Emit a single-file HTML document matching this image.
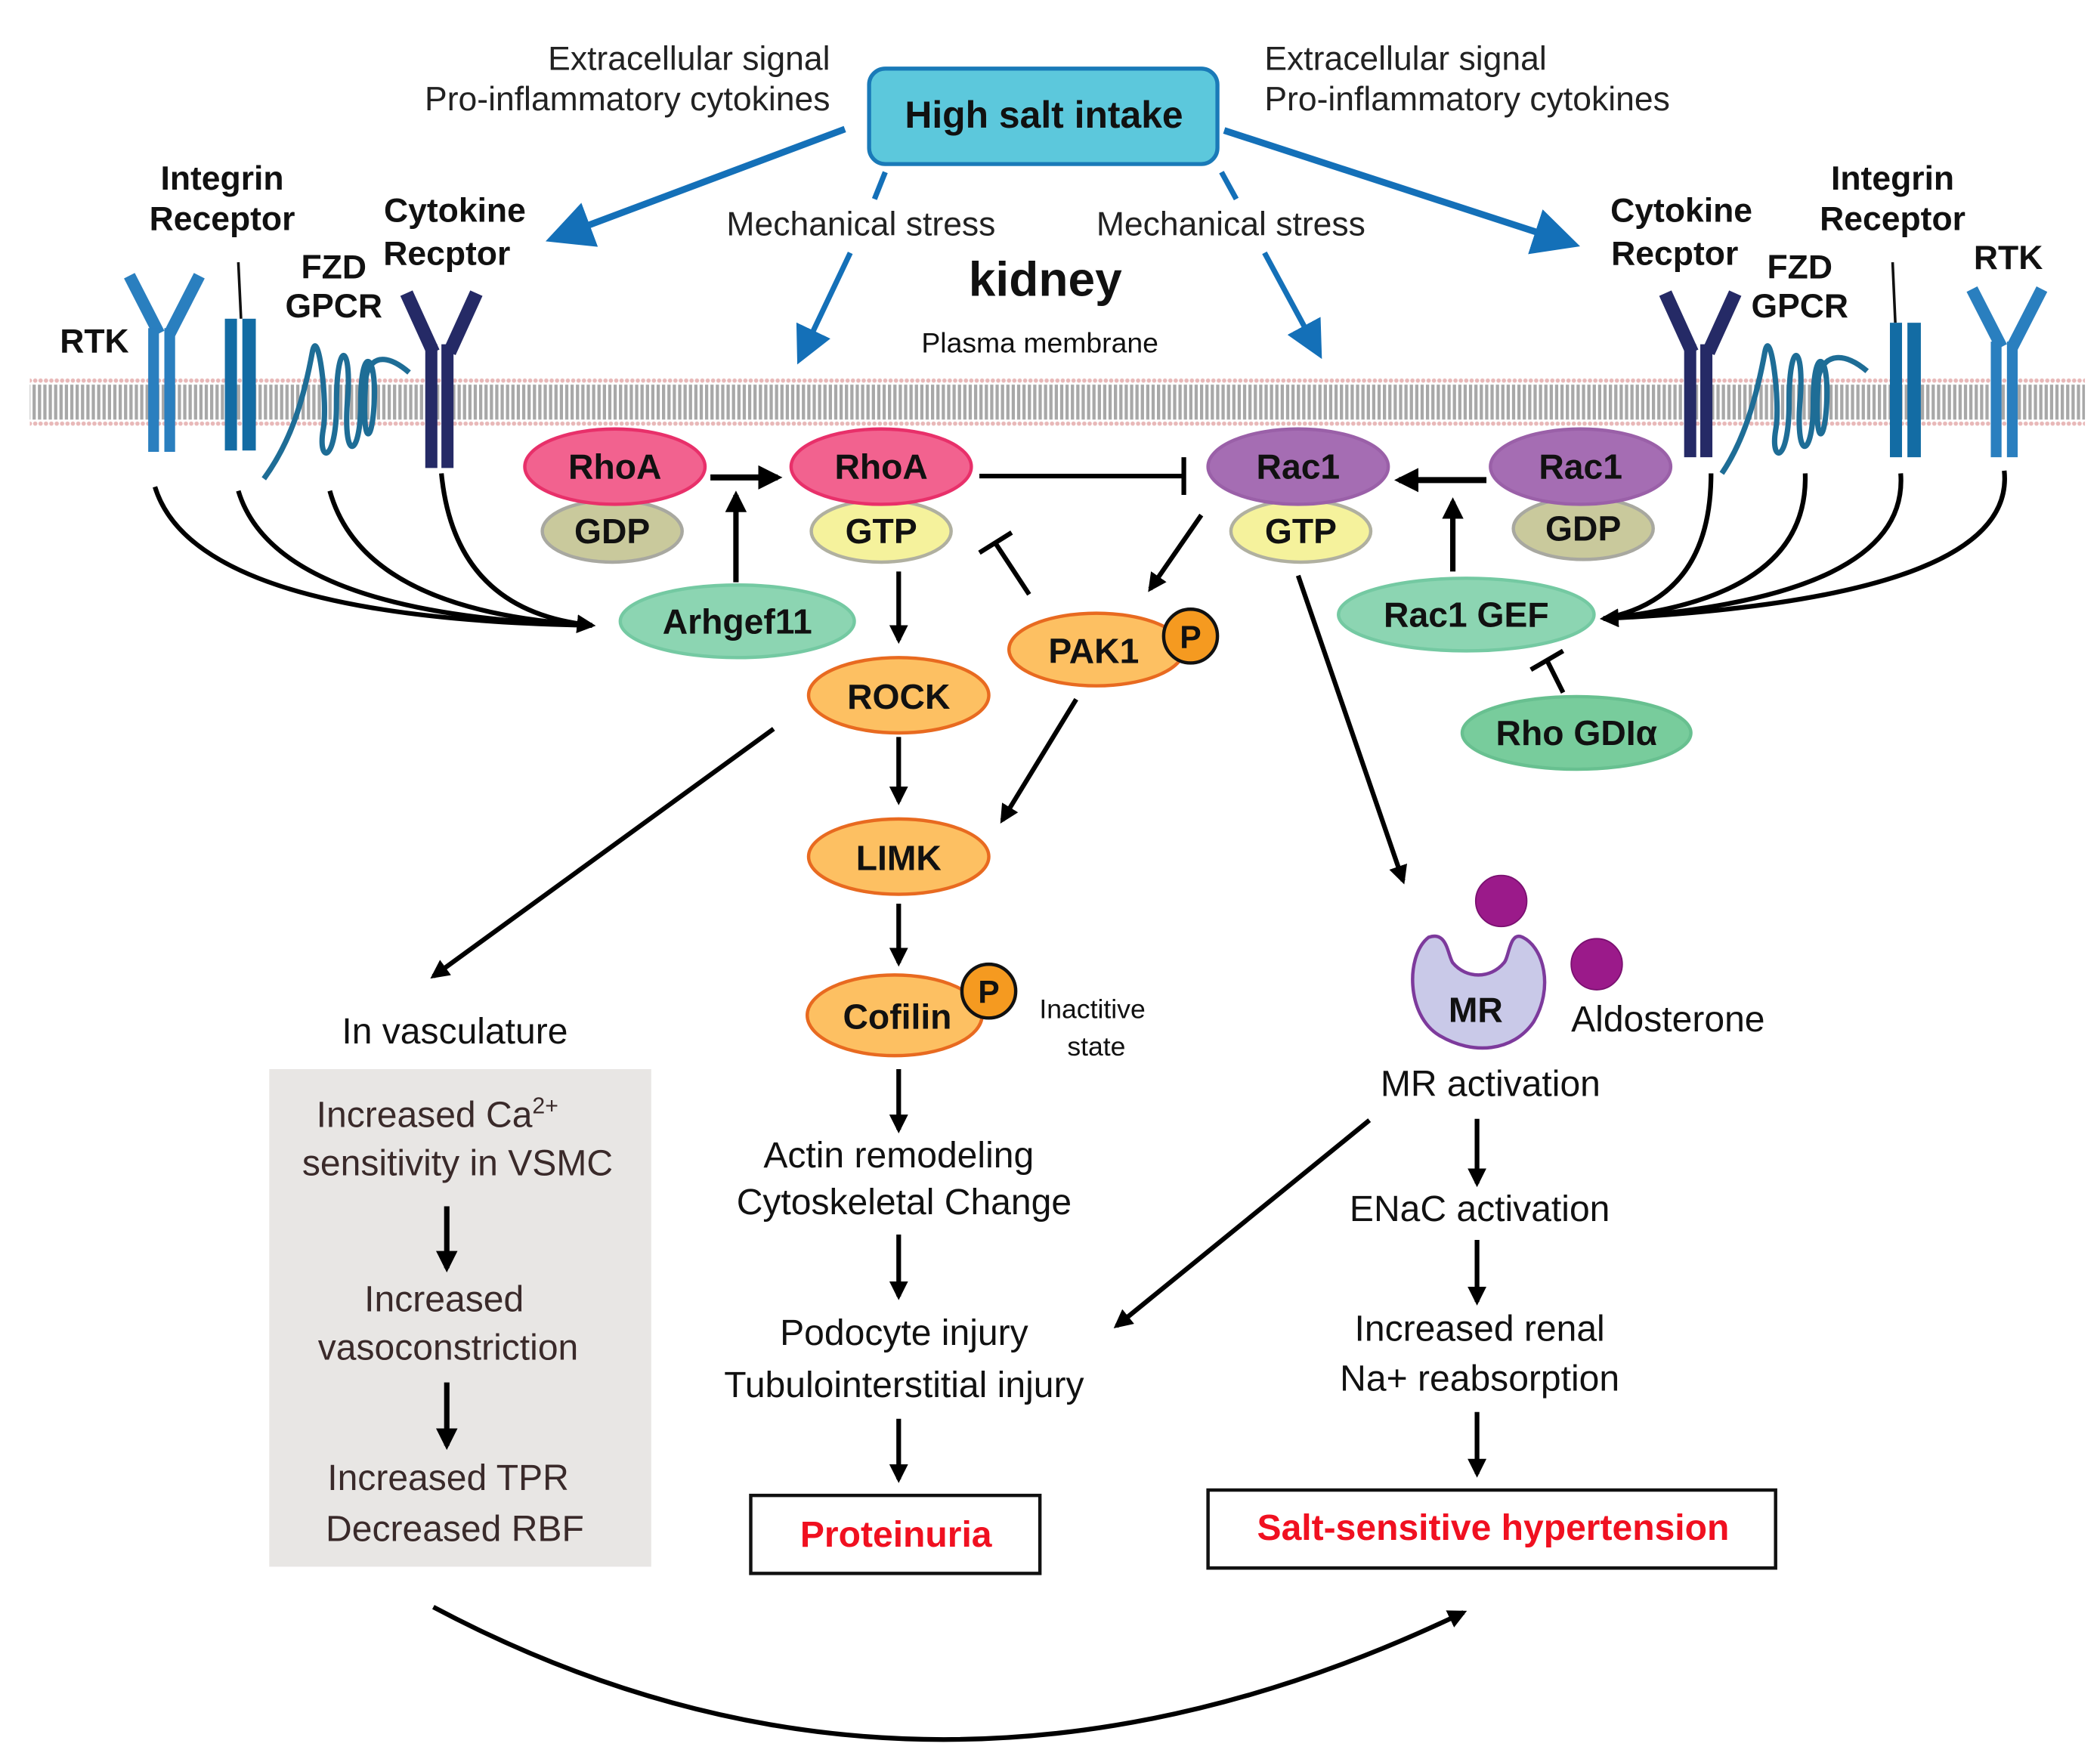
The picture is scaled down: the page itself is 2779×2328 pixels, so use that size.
<!DOCTYPE html>
<html><head><meta charset="utf-8"><style>
html,body{margin:0;padding:0;background:#fff}
svg{display:block}
svg text{font-family:"Liberation Sans",Arial,Helvetica,sans-serif}
.b{font-weight:bold}
</style></head><body>
<svg width="2779" height="2328" viewBox="0 0 1561 1308" xmlns="http://www.w3.org/2000/svg" font-family="Liberation Sans, Arial, sans-serif">
<defs>
<marker id="ah" viewBox="0 0 10 10" refX="8" refY="5" markerWidth="4" markerHeight="4" orient="auto" markerUnits="strokeWidth"><path d="M0,0 L10,5 L0,10 z" fill="#000"/></marker>
<marker id="bh" viewBox="0 0 10 10" refX="8" refY="5" markerWidth="7" markerHeight="7" orient="auto" markerUnits="strokeWidth"><path d="M0,0 L10,5 L0,10 z" fill="#1470b8"/></marker>
<pattern id="mem" width="4" height="40" patternUnits="userSpaceOnUse"><rect width="4" height="40" fill="#fff"/><rect x="0" y="6" width="2.4" height="26" fill="#a8a8a8"/><circle cx="2" cy="3" r="1.6" fill="#e8b8b8"/><circle cx="2" cy="35" r="1.6" fill="#e8b8b8"/></pattern>
</defs>

<g font-size="25" fill="#222">
<text x="617" y="52" text-anchor="end">Extracellular signal</text>
<text x="617" y="82" text-anchor="end">Pro-inflammatory cytokines</text>
<text x="940" y="52">Extracellular signal</text>
<text x="940" y="82">Pro-inflammatory cytokines</text>
<text x="640" y="175" text-anchor="middle">Mechanical stress</text>
<text x="915" y="175" text-anchor="middle">Mechanical stress</text>
</g>
<rect x="646" y="51" width="259" height="71" rx="12" fill="#5cc8dc" stroke="#1a7ab8" stroke-width="3"/>
<text x="776" y="95" class="b" font-size="28" text-anchor="middle" fill="#111">High salt intake</text>
<text x="777" y="220" class="b" font-size="36" text-anchor="middle" fill="#111">kidney</text>
<text x="773" y="262" font-size="21" text-anchor="middle" fill="#111">Plasma membrane</text>

<g stroke="#1470b8" stroke-width="5" fill="none">
<line x1="628" y1="96" x2="412" y2="177" marker-end="url(#bh)"/>
<line x1="910" y1="97" x2="1168" y2="181" marker-end="url(#bh)"/>
<line x1="658" y1="128" x2="650" y2="148" stroke-width="4"/>
<line x1="632" y1="188" x2="595" y2="266" stroke-width="4" marker-end="url(#bh)"/>
<line x1="908" y1="128" x2="919" y2="148" stroke-width="4"/>
<line x1="940" y1="188" x2="980" y2="262" stroke-width="4" marker-end="url(#bh)"/>
</g>

<rect x="22" y="281" width="1528" height="40" fill="url(#mem)"/>

<g font-size="25" class="b" fill="#111" text-anchor="middle">
<text x="70" y="262">RTK</text>
<text x="165" y="141">Integrin</text><text x="165" y="171">Receptor</text>
<text x="248" y="207">FZD</text><text x="248" y="236">GPCR</text>
<text x="338" y="165">Cytokine</text><text x="332" y="197">Recptor</text>
<text x="1250" y="165">Cytokine</text><text x="1245" y="197">Recptor</text>
<text x="1338" y="207">FZD</text><text x="1338" y="236">GPCR</text>
<text x="1407" y="141">Integrin</text><text x="1407" y="171">Receptor</text>
<text x="1493" y="200">RTK</text>
</g>
<g fill="none" stroke-linecap="butt">
<path d="M96 205 L118 248 M148 205 L126 248" stroke="#2a7fbf" stroke-width="9"/>
<rect x="110" y="244" width="8" height="92" fill="#2a7fbf"/><rect x="122" y="244" width="8" height="92" fill="#2a7fbf"/>
<line x1="177" y1="195" x2="179" y2="237" stroke="#111" stroke-width="2"/>
<rect x="167" y="237" width="9" height="98" fill="#136ca4"/><rect x="180" y="237" width="10" height="98" fill="#136ca4"/>
<path d="M196 356 C215 330 225 300 232 262 C236 240 244 300 240 320 C236 345 250 345 250 300 C250 250 262 255 258 300 C255 345 268 340 268 300 C268 255 280 262 278 300 C276 335 268 330 272 280 C276 262 290 265 304 277" stroke="#1e6d96" stroke-width="4"/>
<path d="M302 218 L322 262 M354 218 L334 262" stroke="#252a66" stroke-width="10"/>
<rect x="316" y="256" width="9" height="92" fill="#252a66"/><rect x="328" y="256" width="9" height="92" fill="#252a66"/>
<path d="M1238 218 L1258 262 M1290 218 L1270 262" stroke="#252a66" stroke-width="10"/>
<rect x="1252" y="256" width="9" height="84" fill="#252a66"/><rect x="1264" y="256" width="9" height="84" fill="#252a66"/>
<path d="M1280 352 C1295 330 1305 300 1312 262 C1316 240 1324 300 1320 320 C1316 345 1330 345 1330 300 C1330 250 1342 255 1338 300 C1335 345 1348 340 1348 300 C1348 255 1360 262 1358 300 C1356 335 1348 330 1352 280 C1356 262 1372 262 1388 276" stroke="#1e6d96" stroke-width="4"/>
<line x1="1407" y1="195" x2="1409" y2="240" stroke="#111" stroke-width="2"/>
<rect x="1405" y="240" width="9" height="100" fill="#136ca4"/><rect x="1418" y="240" width="10" height="100" fill="#136ca4"/>
<path d="M1466 215 L1488 258 M1518 215 L1496 258" stroke="#2a7fbf" stroke-width="9"/>
<rect x="1480" y="254" width="8" height="86" fill="#2a7fbf"/><rect x="1492" y="254" width="8" height="86" fill="#2a7fbf"/>
</g>

<g stroke="#000" stroke-width="3.5" fill="none">
<path d="M115 362 Q145 460 440 465"/>
<path d="M177 365 Q205 458 440 465"/>
<path d="M245 365 Q270 455 440 465"/>
<path d="M328 352 Q338 455 440 465" marker-end="url(#ah)"/>
<path d="M1272 352 Q1272 445 1192 460"/>
<path d="M1342 352 Q1345 445 1192 460"/>
<path d="M1413 352 Q1420 445 1192 460"/>
<path d="M1490 350 Q1500 445 1192 460" marker-end="url(#ah)"/>
</g>

<g stroke="#000" stroke-width="3.5" fill="none">
<line x1="528" y1="355" x2="578" y2="355" stroke-width="4.5" marker-end="url(#ah)"/>
<line x1="728" y1="354" x2="880" y2="354"/>
<line x1="880" y1="340" x2="880" y2="368"/>
<line x1="1105" y1="357" x2="1040" y2="357" stroke-width="4.5" marker-end="url(#ah)"/>
<line x1="1080" y1="425" x2="1080" y2="373" stroke-width="4" marker-end="url(#ah)"/>
<line x1="547" y1="433" x2="547" y2="368" stroke-width="4" marker-end="url(#ah)"/>
<line x1="1162" y1="515" x2="1150" y2="491"/><line x1="1138" y1="498" x2="1162" y2="484"/>
<line x1="893" y1="383" x2="855" y2="438" marker-end="url(#ah)"/>
<line x1="765" y1="442" x2="740" y2="404"/><line x1="728" y1="411" x2="752" y2="396"/>
<line x1="668" y1="425" x2="668" y2="476" marker-end="url(#ah)"/>
<line x1="668" y1="548" x2="668" y2="596" marker-end="url(#ah)"/>
<line x1="800" y1="520" x2="745" y2="610" marker-end="url(#ah)"/>
<line x1="668" y1="672" x2="668" y2="716" marker-end="url(#ah)"/>
<line x1="668" y1="795" x2="668" y2="840" marker-end="url(#ah)"/>
<line x1="668" y1="918" x2="668" y2="964" marker-end="url(#ah)"/>
<line x1="668" y1="1055" x2="668" y2="1100" marker-end="url(#ah)"/>
<line x1="575" y1="542" x2="322" y2="726" marker-end="url(#ah)"/>
<line x1="965" y1="428" x2="1043" y2="655" marker-end="url(#ah)"/>
<line x1="1018" y1="833" x2="830" y2="986" marker-end="url(#ah)"/>
<line x1="1098" y1="832" x2="1098" y2="880" marker-end="url(#ah)"/>
<line x1="1098" y1="922" x2="1098" y2="968" marker-end="url(#ah)"/>
<line x1="1098" y1="1050" x2="1098" y2="1096" marker-end="url(#ah)"/>
<path d="M322 1195 Q690 1390 1088 1199" marker-end="url(#ah)"/>
</g>

<g stroke-width="2.5">
<ellipse cx="455" cy="395" rx="52" ry="23" fill="#c9c99c" stroke="#a8a8a0"/>
<ellipse cx="457" cy="347" rx="67" ry="28" fill="#f2628f" stroke="#e8306a"/>
<ellipse cx="655" cy="395" rx="52" ry="23" fill="#f5f29c" stroke="#b0b0a0"/>
<ellipse cx="655" cy="347" rx="67" ry="28" fill="#f2628f" stroke="#e8306a"/>
<ellipse cx="967" cy="395" rx="52" ry="23" fill="#f5f29c" stroke="#b0b0a0"/>
<ellipse cx="965" cy="347" rx="67" ry="28" fill="#a56db3" stroke="#9a60a8"/>
<ellipse cx="1177" cy="393" rx="52" ry="23" fill="#c9c99c" stroke="#a8a8a0"/>
<ellipse cx="1175" cy="347" rx="67" ry="28" fill="#a56db3" stroke="#9a60a8"/>
<ellipse cx="548" cy="462" rx="87" ry="27" fill="#8cd5b2" stroke="#74c9a2"/>
<ellipse cx="1090" cy="457" rx="95" ry="27" fill="#8cd5b2" stroke="#74c9a2"/>
<ellipse cx="1172" cy="545" rx="85" ry="27" fill="#78cc9c" stroke="#68c090"/>
<ellipse cx="815" cy="483" rx="65" ry="27" fill="#fdc062" stroke="#e86a20"/>
<circle cx="885" cy="473" r="20" fill="#f59a20" stroke="#111"/>
<ellipse cx="668" cy="517" rx="67" ry="28" fill="#fdc062" stroke="#e86a20"/>
<ellipse cx="668" cy="637" rx="67" ry="28" fill="#fdc062" stroke="#e86a20"/>
<ellipse cx="665" cy="755" rx="65" ry="30" fill="#fdc062" stroke="#e86a20"/>
<circle cx="735" cy="737" r="20" fill="#f59a20" stroke="#111"/>
</g>
<g class="b" font-size="26" fill="#111" text-anchor="middle">
<text x="457" y="356">RhoA</text><text x="455" y="404">GDP</text>
<text x="655" y="356">RhoA</text><text x="655" y="404">GTP</text>
<text x="965" y="356">Rac1</text><text x="967" y="404">GTP</text>
<text x="1175" y="356">Rac1</text><text x="1177" y="402">GDP</text>
<text x="548" y="471">Arhgef11</text>
<text x="1090" y="466">Rac1 GEF</text>
<text x="1172" y="554">Rho GDIα</text>
<text x="813" y="493">PAK1</text>
<text x="885" y="482" font-size="24">P</text>
<text x="668" y="527">ROCK</text>
<text x="668" y="647">LIMK</text>
<text x="667" y="765">Cofilin</text>
<text x="735" y="746" font-size="24">P</text>
</g>
<g font-size="20" fill="#111" text-anchor="middle">
<text x="812" y="757">Inactitive</text><text x="815" y="785">state</text>
</g>

<path d="M1062 697 C1045 710 1045 755 1070 770 C1095 785 1125 782 1140 760 C1155 735 1148 705 1132 697 C1122 692 1122 712 1118 716 C1108 728 1090 728 1080 716 C1076 710 1076 692 1062 697 Z" fill="#c9c9e8" stroke="#7d3a9c" stroke-width="2.5"/>
<circle cx="1116" cy="670" r="19" fill="#9b1a8a" stroke="#7a1070"/>
<circle cx="1187" cy="717" r="19" fill="#9b1a8a" stroke="#7a1070"/>
<text x="1097" y="760" class="b" font-size="26" text-anchor="middle" fill="#111">MR</text>

<g font-size="27" fill="#111" text-anchor="middle">
<text x="1240" y="767">Aldosterone</text>
<text x="1108" y="815">MR activation</text>
<text x="1100" y="908">ENaC activation</text>
<text x="1100" y="997">Increased renal</text>
<text x="1100" y="1034">Na+ reabsorption</text>
<text x="668" y="868">Actin remodeling</text>
<text x="672" y="903">Cytoskeletal Change</text>
<text x="672" y="1000">Podocyte injury</text>
<text x="672" y="1039">Tubulointerstitial injury</text>
<text x="338" y="776">In vasculature</text>
</g>
<rect x="200" y="795" width="284" height="370" fill="#e8e6e4"/>
<g font-size="27" fill="#3a2a2a" text-anchor="middle">
<text x="325" y="838">Increased Ca<tspan font-size="17" dy="-10">2+</tspan></text>
<text x="340" y="874">sensitivity in VSMC</text>
<text x="330" y="975">Increased</text>
<text x="333" y="1011">vasoconstriction</text>
<text x="333" y="1108">Increased TPR</text>
<text x="338" y="1146">Decreased RBF</text>
</g>
<g stroke="#000" stroke-width="4" fill="none">
<line x1="332" y1="897" x2="332" y2="943" marker-end="url(#ah)"/>
<line x1="332" y1="1028" x2="332" y2="1075" marker-end="url(#ah)"/>
</g>

<rect x="558" y="1112" width="215" height="58" fill="#fff" stroke="#111" stroke-width="2.5"/>
<text x="666" y="1150" class="b" font-size="27" text-anchor="middle" fill="#f01020">Proteinuria</text>
<rect x="898" y="1108" width="422" height="58" fill="#fff" stroke="#111" stroke-width="2.5"/>
<text x="1110" y="1145" class="b" font-size="27" text-anchor="middle" fill="#f01020">Salt-sensitive hypertension</text>
</svg>
</body></html>
